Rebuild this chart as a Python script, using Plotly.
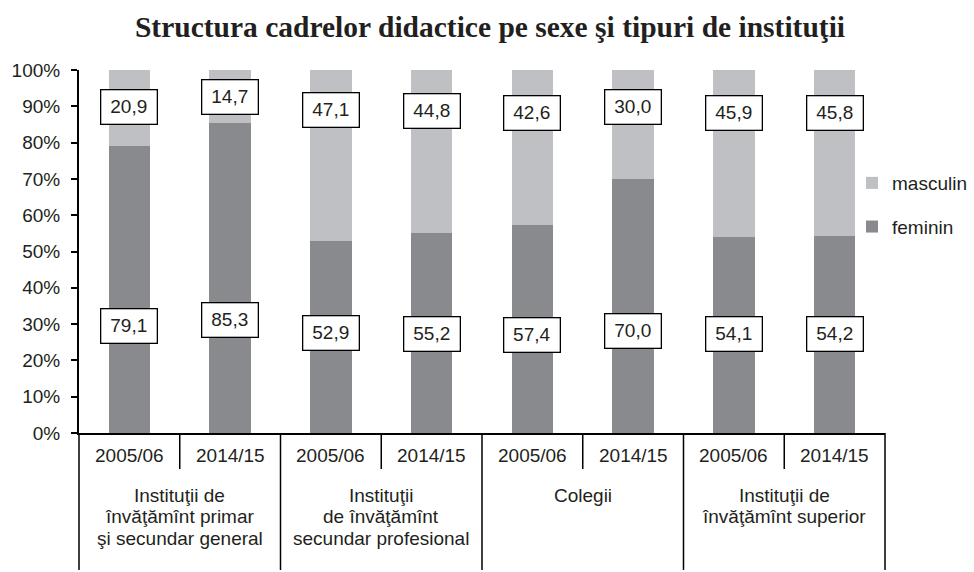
import plotly.graph_objects as go

# ---- data ----
groups = [
    "Instituţii de<br>învăţămînt primar<br>şi secundar general",
    "Instituţii<br>de învăţămînt<br>secundar profesional",
    "Colegii",
    "Instituţii de<br>învăţămînt superior",
]
periods = ["2005/06", "2014/15"]
feminin = [79.1, 85.3, 52.9, 55.2, 57.4, 70.0, 54.1, 54.2]
masculin = [20.9, 14.7, 47.1, 44.8, 42.6, 30.0, 45.9, 45.8]
y_ticks = [0, 10, 20, 30, 40, 50, 60, 70, 80, 90, 100]
y_tick_labels = [f"{v}%" for v in y_ticks]

# label anchor heights (in % units) as placed in the original
masc_label_y = [89.7, 92.6, 89.1, 88.6, 88.2, 89.8, 88.2, 88.2]
fem_label_y = [29.6, 31.1, 27.5, 27.3, 27.1, 28.2, 27.4, 27.4]

# ---- styling ----
FONT = "Liberation Sans, Arial, sans-serif"
TXT = "#231f20"
C_FEM = "#898a8d"
C_MASC = "#bfc0c3"
FS = 19

n_per = len(periods)
xs = list(range(len(groups) * n_per))
fmt = lambda v: f"{v:.1f}".replace(".", ",")

fig = go.Figure()
fig.add_trace(go.Bar(x=xs, y=feminin, name="feminin", marker=dict(color=C_FEM, line=dict(width=0)),
                     width=0.41, legendgroup="f", legendrank=2, hoverinfo="y"))
fig.add_trace(go.Bar(x=xs, y=masculin, name="masculin", marker=dict(color=C_MASC, line=dict(width=0)),
                     width=0.41, legendgroup="m", legendrank=1, hoverinfo="y"))

annotations = []
box = dict(bgcolor="white", bordercolor="black", borderwidth=1.3, width=53, height=31,
           font=dict(family=FONT, size=FS, color=TXT), showarrow=False, xref="x", yref="y")
for i, x in enumerate(xs):
    annotations.append(dict(x=x, y=masc_label_y[i], text=fmt(masculin[i]), **box))
    annotations.append(dict(x=x, y=fem_label_y[i], text=fmt(feminin[i]), **box))

# axis category labels (drawn below the plot area)
plot_top, plot_bot = 70, 433
ph = plot_bot - plot_top
to_paper = lambda py: (plot_bot - py) / ph

for i, x in enumerate(xs):
    annotations.append(dict(x=x, y=to_paper(455), xref="x", yref="paper", text=periods[i % n_per],
                            showarrow=False, font=dict(family=FONT, size=FS, color=TXT), yanchor="middle"))
for g, name in enumerate(groups):
    cx = g * n_per + (n_per - 1) / 2
    for j, line in enumerate(name.split("<br>")):
        annotations.append(dict(x=cx, y=to_paper(495 + 21.5 * j), xref="x", yref="paper", text=line,
                                showarrow=False, font=dict(family=FONT, size=FS, color=TXT), yanchor="middle"))

shapes = []
lw = 1.5
short_bot = to_paper(469)
long_bot = to_paper(570)
for g in range(len(groups)):
    for k in range(n_per - 1):
        xb = g * n_per + k + 0.5
        shapes.append(dict(type="line", xref="x", yref="paper", x0=xb, x1=xb, y0=0, y1=short_bot,
                           line=dict(color="black", width=lw)))
for g in range(1, len(groups)):
    xb = g * n_per - 0.5
    shapes.append(dict(type="line", xref="x", yref="paper", x0=xb, x1=xb, y0=0, y1=long_bot,
                       line=dict(color="black", width=lw)))
for xd in (0, 1):
    shapes.append(dict(type="line", xref="x domain", yref="paper", x0=xd, x1=xd, y0=0, y1=long_bot,
                       line=dict(color="black", width=lw)))

fig.update_layout(
    width=974, height=572,
    margin=dict(l=79, r=89, t=plot_top, b=572 - plot_bot, autoexpand=False),
    paper_bgcolor="white", plot_bgcolor="white",
    barmode="stack", bargap=0,
    title=dict(text="<b>Structura cadrelor didactice pe sexe şi tipuri de instituţii</b>",
               x=490 / 974, xref="container", xanchor="center",
               y=1 - 27 / 572, yref="container", yanchor="middle",
               font=dict(family="Liberation Serif, Times New Roman, serif", size=29.5, color=TXT)),
    font=dict(family=FONT, size=FS, color=TXT),
    xaxis=dict(range=[-0.5, len(xs) - 0.5], showticklabels=False, ticks="", showgrid=False,
               zeroline=False, showline=True, linecolor="black", linewidth=2, fixedrange=True),
    yaxis=dict(range=[0, 100], tickmode="array", tickvals=y_ticks, ticktext=y_tick_labels,
               showgrid=False, zeroline=False,
               showline=True, linecolor="black", linewidth=2, ticks="outside", ticklen=6,
               tickwidth=1.5, tickcolor="black", ticklabelstandoff=7,
               tickfont=dict(family=FONT, size=FS, color=TXT), fixedrange=True),
    legend=dict(x=(852 - 79) / 806, xanchor="left", y=to_paper(164), yanchor="top",
                traceorder="grouped", tracegroupgap=16,
                font=dict(family=FONT, size=FS, color=TXT), bgcolor="rgba(0,0,0,0)"),
    annotations=annotations,
    shapes=shapes,
    showlegend=True,
)

fig.write_html("out.html", config={"displayModeBar": False},
               post_script="document.body.style.margin='0px';")
